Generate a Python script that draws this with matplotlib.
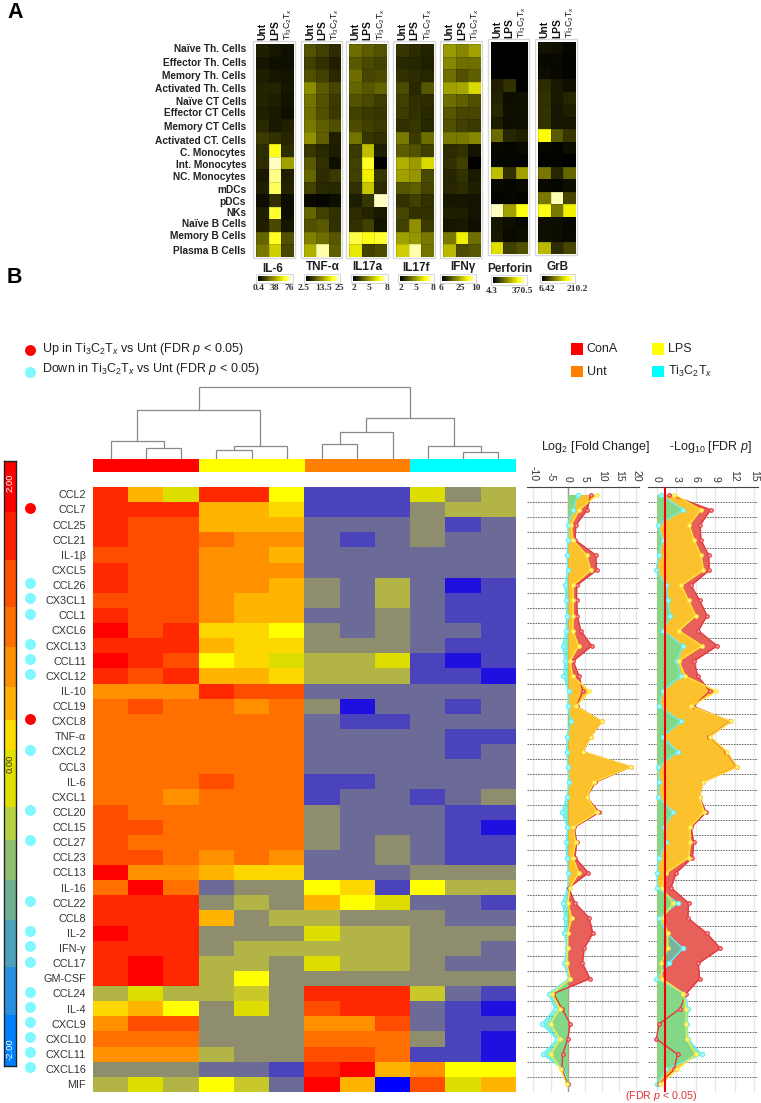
import numpy as np
import matplotlib
matplotlib.use("Agg")
import matplotlib.pyplot as plt
from matplotlib.colors import ListedColormap, LinearSegmentedColormap, BoundaryNorm
from matplotlib.patches import Rectangle

plt.rcParams["font.family"] = ["Liberation Sans", "DejaVu Sans"]
plt.rcParams["mathtext.fontset"] = "custom"
plt.rcParams["mathtext.rm"] = "Liberation Sans"
plt.rcParams["mathtext.it"] = "Liberation Sans:italic"
plt.rcParams["mathtext.bf"] = "Liberation Sans:bold"

W, H = 761, 1103

# panel A
cell_types = ["Naïve Th. Cells", "Effector Th. Cells", "Memory Th. Cells", "Activated Th. Cells",
              "Naïve CT Cells", "Effector CT Cells", "Memory CT Cells", "Activated CT. Cells",
              "C. Monocytes", "Int. Monocytes", "NC. Monocytes", "mDCs", "pDCs", "NKs",
              "Naïve B Cells", "Memory B Cells", "Plasma B Cells"]
cell_label_y = [49, 63, 76, 89, 102, 113, 127, 141, 153, 165, 177, 190, 202, 213, 224, 236, 251]
il6 = [[1, .7, .5], [.7, .5, .5], [1, .7, .6], [1.1, 1.1, .7], [1.1, .9, .6], [1, .8, .5], [1.3, .8, 1],
       [1.9, 1.6, 1.2], [1.4, 8.2, 1.4], [1.4, 9.7, 5], [.8, 9.2, 1], [1, 8.8, 1.1], [.4, 1.5, .4],
       [1, 8.4, .4], [1, 2.3, .7], [3.2, 8.3, 2.5], [3.8, 6.5, 2.2]]
tnfa = [[2.6, 2, 1.4], [2, 1.5, 1], [2.5, 2, 1.3], [4.4, 2.8, 2.2], [3.6, 2.6, 1.9], [3.5, 2.5, 1.8],
        [3.8, 3, 2.5], [4.5, 3, 1], [1.7, 1.3, .9], [2.8, 1.5, .5], [3.2, 1.4, 1.8], [2.1, 1.3, 1.2],
        [.3, .2, .4], [3.2, 2, 1.6], [2.5, 2.8, 1.5], [4, 3.4, 2.7], [5.5, 9.5, 3]]
il17a = [[3.4, 2.9, 2.6], [2.8, 2.3, 2.1], [3.4, 2.2, 2.4], [3.2, 2.7, 3.2], [2.6, 2.3, 1.9], [2.1, 1.8, 1.7],
         [2.4, 2, 1.8], [3.6, 1.7, 1.5], [1.8, 6, 1], [2, 8.3, 0], [2, 7.5, 1.7], [1.5, 6.2, 1.4],
         [.9, 1.7, 9.7], [1.4, 1.1, .8], [1.5, 2, .6], [8.6, 8.2, 8.4], [7.3, 2, 2.4]]
il17f = [[1.7, 1.4, 1.1], [1.3, 1.2, 1], [1.6, 1.4, 1.2], [2.4, 1.3, 2.7], [2, 1.5, 1.4], [1.9, 1.6, 1.3],
         [1.5, 1.7, 1.2], [3.8, 1.8, 3.4], [2.9, 2.6, 2], [5.5, 4.8, 6.8], [5, 4.7, 2.3], [2.7, 3, 2.2],
         [1.6, 2, 1.6], [2.2, 1.6, 1.6], [2, 4.5, 1.8], [5, 4.7, 3.8], [6.5, 9.5, 3.6]]
ifng = [[4.8, 4.2, 5], [4.2, 3.5, 3.5], [3.5, 2.5, 3], [5, 5.2, 6.8], [3.4, 3, 2.5], [2.7, 2.2, 2.2],
        [2.5, 2, 1.8], [3.8, 3.8, 4.2], [1.4, 1.6, .6], [1.5, 2, 0], [1.2, 1.6, .8], [1.2, 1.4, 1],
        [.7, .7, .6], [1, .9, .6], [.7, .8, .5], [3.8, 7.5, 3.5], [5.8, 2.4, 2.7]]
perforin = [[0, 0, 0], [0, 0, 0], [0, 0, 0], [1, 1.5, 0], [1.1, .4, .5], [1.3, .5, .5], [.9, .4, .5],
            [3.3, 1.2, 1], [.3, .2, .3], [.2, .2, .1], [6, 1.5, 5], [.3, .2, .3], [.1, .2, .1],
            [9.7, 5, 8.2], [.7, .4, .3], [.8, .3, .4], [7, 2, 2.5]]
grb = [[.6, .5, .2], [.3, .3, .1], [.4, .3, .1], [1.4, .8, .5], [1.6, .8, 1.2], [1.6, .7, 1], [1.6, .7, .7],
       [8, 2.8, 1.7], [.2, .1, .4], [.1, .1, 0], [3.7, 1.2, 3.2], [.3, .2, .4], [3.8, 9.6, 2.2],
       [8.2, 3.8, 7.5], [.5, .4, .3], [.5, .4, .3], [5.8, 1.4, 2.2]]
small_maps = [("IL-6", il6), ("TNF-α", tnfa), ("IL17a", il17a), ("IL17f", il17f),
              ("IFNγ", ifng), ("Perforin", perforin), ("GrB", grb)]
small_xpos = [(256, 294), (304, 341), (349, 386.7), (396, 433.7), (443.3, 480.7), (490.7, 528.3), (538.3, 576)]
small_ypos = [(44.3, 256.7)] * 5 + [(42, 254), (41.7, 254)]
small_titles_xy = [(273, 269), (322.7, 267), (367.7, 267), (416, 268), (462.7, 267.3), (510.3, 269), (557.7, 266.7)]
small_cbar = [(258, 291, 276, 281), (306, 338.3, 276, 281), (353.3, 385.7, 276, 281), (400, 431.7, 276, 281),
              (441.7, 474, 276, 281), (493.3, 525, 277, 283), (541.7, 573.3, 276, 281)]
small_ticks = [[("0.4", 259), ("38", 274.3), ("76", 289.3)], [("2.5", 304), ("13.5", 323.3), ("25", 339.3)],
               [("2", 354), ("5", 369), ("8", 386.7)], [("2", 400.7), ("5", 416), ("8", 433)],
               [("6", 441), ("25", 460.7), ("10", 476)], [("4.3", 491.3), ("370.5", 522.3)],
               [("6.42", 547.3), ("210.2", 577.3)]]
condition_labels = ["Unt", "LPS", r"Ti$_3$C$_2$T$_x$"]

# panel B heatmap
genes = ["CCL2", "CCL7", "CCL25", "CCL21", "IL-1β", "CXCL5", "CCL26", "CX3CL1", "CCL1", "CXCL6", "CXCL13",
         "CCL11", "CXCL12", "IL-10", "CCL19", "CXCL8", "TNF-α", "CXCL2", "CCL3", "IL-6", "CXCL1", "CCL20",
         "CCL15", "CCL27", "CCL23", "CCL13", "IL-16", "CCL22", "CCL8", "IL-2", "IFN-γ", "CCL17", "GM-CSF",
         "CCL24", "IL-4", "CXCL9", "CXCL10", "CXCL11", "CXCL16", "MIF"]
heat_levels = [
    [14, 10, 7, 14, 14, 8, 2, 2, 2, 7, 4, 5], [14, 14, 14, 10, 10, 9, 2, 2, 2, 4, 5, 5],
    [14, 13, 13, 10, 10, 10, 3, 3, 3, 4, 2, 3], [14, 13, 13, 12, 11, 11, 3, 2, 3, 4, 3, 3],
    [13, 13, 13, 11, 11, 10, 3, 3, 3, 3, 3, 3], [14, 13, 13, 11, 11, 11, 3, 3, 3, 3, 3, 3],
    [14, 13, 13, 11, 11, 10, 4, 3, 5, 3, 1, 2], [13, 13, 13, 11, 10, 10, 4, 3, 5, 3, 2, 2],
    [14, 13, 13, 11, 10, 10, 3, 3, 4, 3, 2, 2], [15, 13, 14, 9, 9, 8, 4, 3, 4, 3, 3, 2],
    [14, 14, 14, 10, 9, 9, 4, 4, 4, 3, 2, 2], [15, 14, 13, 8, 9, 7, 5, 5, 7, 2, 1, 2],
    [14, 13, 14, 10, 10, 9, 5, 5, 5, 2, 2, 1], [11, 11, 11, 14, 13, 13, 3, 3, 3, 3, 3, 3],
    [12, 13, 12, 12, 11, 12, 4, 1, 3, 3, 2, 3], [12, 12, 12, 12, 12, 12, 3, 2, 2, 3, 3, 3],
    [12, 12, 12, 12, 12, 12, 3, 3, 3, 3, 2, 2], [12, 12, 12, 12, 12, 12, 3, 3, 3, 3, 2, 3],
    [12, 12, 12, 12, 12, 12, 3, 3, 3, 3, 3, 3], [12, 12, 12, 13, 12, 12, 2, 2, 3, 3, 3, 3],
    [12, 12, 11, 12, 12, 12, 2, 3, 3, 2, 3, 4], [13, 12, 12, 12, 12, 12, 4, 3, 3, 3, 2, 2],
    [13, 13, 12, 12, 12, 12, 4, 3, 3, 3, 2, 1], [13, 12, 12, 12, 12, 12, 4, 3, 4, 3, 2, 2],
    [13, 13, 12, 11, 12, 11, 3, 3, 4, 3, 2, 2], [15, 11, 11, 10, 9, 9, 3, 3, 3, 4, 4, 4],
    [12, 15, 12, 3, 4, 4, 8, 9, 2, 8, 5, 5], [14, 14, 14, 4, 5, 4, 10, 8, 7, 3, 3, 2],
    [14, 14, 14, 10, 4, 5, 5, 4, 4, 4, 3, 3], [15, 14, 14, 4, 4, 4, 7, 5, 5, 4, 4, 4],
    [14, 14, 14, 4, 5, 5, 5, 5, 5, 4, 4, 3], [14, 15, 14, 5, 5, 4, 7, 5, 5, 4, 3, 3],
    [14, 15, 14, 5, 8, 4, 4, 4, 4, 4, 4, 4], [5, 7, 5, 5, 6, 4, 14, 14, 14, 6, 3, 2],
    [9, 10, 8, 4, 7, 4, 13, 14, 14, 3, 2, 1], [11, 13, 13, 4, 4, 4, 11, 11, 13, 3, 2, 2],
    [12, 12, 12, 4, 4, 4, 12, 12, 12, 4, 2, 1], [11, 11, 11, 5, 4, 4, 13, 13, 12, 2, 2, 1],
    [4, 4, 4, 3, 3, 2, 14, 15, 10, 11, 8, 8], [5, 7, 5, 8, 6, 3, 15, 10, 0, 13, 7, 10]]
level_colors = ["#0000ff", "#2010e0", "#4a43bb", "#6c6b97", "#8e8e6e", "#b2b445", "#c8c82a", "#dddd00",
                "#ffff00", "#ffd700", "#ffb400", "#ff9000", "#ff7000", "#ff4d00", "#ff2800", "#ff0000"]
group_colors = ["#ff0000", "#ffff00", "#ff8000", "#00ffff"]
group_sizes = [3, 3, 3, 3]
up_genes = ["CCL7", "CXCL8"]
down_genes = ["CCL26", "CX3CL1", "CCL1", "CXCL13", "CCL11", "CXCL12", "CXCL2", "CCL20", "CCL27", "CCL22",
              "IL-2", "IFN-γ", "CCL17", "CCL24", "IL-4", "CXCL9", "CXCL10", "CXCL11", "CXCL16"]

# dendrogram links: left column, right column, left drop, right drop, height
dendro_links = [(1, 2, 0, 0, 10.7), (0, 1.5, 0, 10.7, 18), (3, 4, 0, 0, 8.7), (3.5, 5, 8.7, 0, 13.3),
                (.75, 4.25, 18, 13.3, 48.7), (6, 7, 0, 0, 14.7), (6.5, 8, 14.7, 0, 26.7),
                (10, 11, 0, 0, 6.7), (9, 10.5, 0, 6.7, 13.3), (7.25, 9.75, 26.7, 13.3, 40.7),
                (2.5, 8.5, 48.7, 40.7, 72)]

# side colour scale of the heatmap
scale_edges = [460.7, 511.7, 560, 606.7, 646.7, 686.7, 720, 750, 806.7, 840, 880, 920, 966.7, 1015, 1065.7]
scale_colors = ["#ff0000", "#ff2000", "#ff5000", "#ff7000", "#ff9000", "#ffb000", "#ffdc00", "#e0e000",
                "#b5d040", "#8fc070", "#70ae92", "#4fa0bc", "#2890e0", "#0080ff"]

# profile panels, one value per gene
fc_cona = [6.7, 5.7, 2.4, 2.1, 8.2, 8.4, 2.6, 2.6, 2.8, 3.8, 7, 1.6, 3.3, 4.4, 2.6, 9.9, 6.7, 4.4, 18.4, 8.1,
           5.5, 9.2, 1.9, 2.6, 2.1, 6, .3, 2.1, 6.3, 7.3, 4.8, 4.3, 6.5, -4.2, -1.6, .7, 0, -1.5, -1.7, 0]
fc_lps = [8.6, 3.4, 1, 1.6, 5.5, 6.7, 1.6, 1.6, 1.6, 1.5, 3.2, .7, 1.4, 6.3, 2.4, 9.9, 6.7, 4.4, 18.4, 7.7,
          5.5, 8.6, 1.6, 2.3, 1.5, 3.2, .7, 0, 1.2, 0, 0, -.3, .7, -4.5, -2.4, -5, -2.2, -4.9, -2, -.3]
fc_ti = [2.9, 1.6, 0, .2, -.3, 0, -.8, -.5, -.3, -.5, -1.5, -.8, -1.3, .3, 0, 1, -.3, -.3, 0, .4,
         -.3, -1.7, -.1, -.5, -.3, .2, 0, -1.5, -.8, -1, -.3, -1.1, .3, -5.6, -3.7, -7.6, -3.2, -7.3, -1.3, 0]
fdr_cona = [1.95, 8.3, 6.7, 6.8, 8, 8.1, 5.3, 6.6, 7.75, 6.4, 9.3, 5.75, 6.3, 8.2, 5.6, 11.3, 8.1, 10.7, 12.3, 7.1,
            6.6, 7.6, 5.3, 5.7, 5.5, 3, 2.2, 4.9, 4.8, 7.7, 9.8, 6.4, 6.6, 4.5, 3.6, .35, -.05, 3.2, 2.7, .4]
fdr_lps = [2.7, 6.8, 5, 5.75, 6.8, 7.2, 3.8, 4.9, 6, 3.4, 7, 3.4, 4.4, 9.2, 5.3, 11.4, 8.2, 10.8, 12.4, 7.1,
           6.6, 7.3, 5.1, 5.2, 4.9, 1.5, .8, 2.5, .9, 1.7, 1.7, .7, .8, 4.1, 4.5, 4.5, 4.6, 6, 3.1, .5]
fdr_ti = [.6, 4.1, .15, .9, .3, -.1, 1.5, 1.7, 2.1, 1, 4, 3.1, 3.7, .9, .35, 3.75, .9, 3.2, .15, .4,
          .2, 2.5, 1.1, 1.4, .4, 0, .1, 3.2, .4, 1.5, 4, 1.9, -.05, 4.4, 4.8, 4.7, 4.8, 6.9, 1.4, 0]
fc_ticks = [-10, -5, 0, 5, 10, 15, 20]
fdr_ticks = [0, 3, 6, 9, 12, 15]
fdr_cutoff = 1.25


def px_axes(x0, y0, x1, y1, **kw):
    return fig.add_axes([x0 / W, 1 - y1 / H, (x1 - x0) / W, (y1 - y0) / H], **kw)


fig = plt.figure(figsize=(W / 100, H / 100), dpi=100)
page = px_axes(0, 0, W, H)
page.set_xlim(0, W)
page.set_ylim(H, 0)
page.axis("off")

page.text(7, 18, "A", fontsize=15.5, fontweight="bold", va="baseline")
page.text(7, 283, "B", fontsize=15.5, fontweight="bold", va="baseline")

# panel A
cmap_a = LinearSegmentedColormap.from_list("by", [(0, "#000000"), (.8, "#ffff00"), (1, "#ffffe0")])
for name, y in zip(cell_types, cell_label_y):
    page.text(246, y, name, ha="right", va="center", fontsize=7.3, fontweight="bold", color="#222222")

for k, (title, vals) in enumerate(small_maps):
    x0, x1 = small_xpos[k]
    y0, y1 = small_ypos[k]
    page.add_patch(Rectangle((x0 - 3, y0 - 3), x1 - x0 + 4, y1 - y0 + 4, fill=False, ec="#d8d8d8", lw=1))
    ax = px_axes(x0, y0, x1, y1)
    ax.pcolormesh(np.array(vals), cmap=cmap_a, vmin=0, vmax=10, edgecolors="#00000020", linewidth=.5)
    ax.set_ylim(len(vals), 0)
    ax.axis("off")
    for j, lab in enumerate(condition_labels):
        cx = x0 + (x1 - x0) * (j + .5) / 3
        page.text(cx, y0 - 4, lab, rotation=90, ha="center", va="bottom",
                  fontsize=6.4 if j == 2 else 7.4, fontweight="normal" if j == 2 else "bold", color="#111111")
    page.text(*small_titles_xy[k], title, ha="center", va="center", fontsize=8.5, fontweight="bold", color="#222222")
    bx0, bx1, by0, by1 = small_cbar[k]
    page.add_patch(Rectangle((bx0 - 2, by0 - 2), bx1 - bx0 + 4, by1 - by0 + 4, fill=False, ec="#d8d8d8", lw=.8))
    cb = px_axes(bx0, by0, bx1, by1)
    cb.imshow(np.linspace(0, 1, 64)[None, :], cmap=cmap_a, aspect="auto")
    cb.axis("off")
    for lab, tx in small_ticks[k]:
        page.text(tx, by1 + 7 if k < 5 else by1 + 8, lab, ha="center", va="center", fontsize=6.8,
                  family="Liberation Serif", fontweight="bold", color="#333333")

# legends of panel B
page.scatter([30], [350], s=62, color="#ff0000", linewidths=0)
page.scatter([30], [372], s=62, color="#80f8ff", linewidths=0)
page.text(42, 349, r"Up in Ti$_3$C$_2$T$_x$ vs Unt (FDR $p$ < 0.05)", fontsize=9, va="center", color="#222222")
page.text(42, 369, r"Down in Ti$_3$C$_2$T$_x$ vs Unt (FDR $p$ < 0.05)", fontsize=9, va="center", color="#222222")
for (x, y), c, lab in zip([(570.7, 343.3), (570.7, 365.7), (652.3, 343.3), (652.3, 365.7)],
                          ["#ff0000", "#ff8000", "#ffff00", "#00ffff"],
                          ["ConA", "Unt", "LPS", r"Ti$_3$C$_2$T$_x$"]):
    page.add_patch(Rectangle((x, y), 12, 11.7, color=c, lw=0))
    page.text(x + 16, y + 6, lab, fontsize=9, va="center", color="#222222")
page.text(595.7, 446.7, r"Log$_2$ [Fold Change]", fontsize=9, ha="center", va="center", color="#222222")
page.text(710, 446.7, r"-Log$_{10}$ [FDR $p$]", fontsize=9, ha="center", va="center", color="#222222")
page.text(661.5, 1096, r"(FDR $p$ < 0.05)", fontsize=7.7, ha="center", va="center", color="#e03030")

# side colour scale
sc = px_axes(4, 460.7, 16, 1065.7)
sc.pcolormesh([0, 1], scale_edges, np.arange(len(scale_colors))[:, None],
              cmap=ListedColormap(scale_colors), shading="flat")
sc.set_ylim(1065.7, 460.7)
sc.set_xticks([])
sc.set_yticks([])
for s in sc.spines.values():
    s.set_color("#222222")
    s.set_linewidth(1)
sc.text(.5, 483, "2.00", rotation=90, color="white", ha="center", va="center", fontsize=6.8, transform=sc.get_yaxis_transform())
sc.text(.5, 764, "0.00", rotation=90, color="#333333", ha="center", va="center", fontsize=6.8, transform=sc.get_yaxis_transform())
sc.text(.5, 1049, "-2.00", rotation=90, color="white", ha="center", va="center", fontsize=6.8, transform=sc.get_yaxis_transform())

# dendrogram
den = px_axes(93, 380, 516, 459)
den.set_xlim(-.5, 11.5)
den.set_ylim(0, 79)
den.axis("off")
for a, b, da, db, h in dendro_links:
    den.plot([a, a, b, b], [da, h, h, db], color="#888888", lw=.9, solid_joinstyle="miter")

# group colour strip
strip = px_axes(93, 459, 516, 471.7)
strip.pcolormesh(np.arange(13) - .5, [0, 1], np.repeat(np.arange(4), group_sizes)[None, :],
                 cmap=ListedColormap(group_colors))
strip.axis("off")

# heatmap
hm = px_axes(93, 486.7, 516, 1091.7)
norm = BoundaryNorm(np.arange(-.5, 16), 16)
hm.imshow(np.array(heat_levels), cmap=ListedColormap(level_colors), norm=norm, aspect="auto", interpolation="nearest")
hm.set_xticks([])
hm.set_yticks(range(len(genes)))
hm.set_yticklabels(genes, fontsize=7.8, color="#333333")
hm.tick_params(axis="y", length=0, pad=5)
for s in hm.spines.values():
    s.set_visible(False)
# significance dots
page.scatter([30] * len(up_genes), [494 + 15.13 * genes.index(g) - 1.5 for g in up_genes], s=62, color="#ff0000", linewidths=0)
page.scatter([30] * len(down_genes), [494 + 15.13 * genes.index(g) - 1.5 for g in down_genes], s=62, color="#80f8ff", linewidths=0)


def profile(x0, x1, xlim, ticks, cona, lps, ti):
    ax = px_axes(x0, 487, x1, 1092)
    rows = np.arange(len(genes))
    ax.set_xlim(*xlim)
    ax.set_ylim(39.5, -.5)
    for t in ticks:
        ax.axvline(t, color="#e6e6e6", lw=1, zorder=0)
    for r in rows:
        ax.axhline(r + .5, color="#555555", lw=.6, ls=(0, (2, 1.2)), zorder=1)
    ax.fill_betweenx(rows, 0, cona, color="#e8605a", lw=0, zorder=2)
    ax.fill_betweenx(rows, 0, lps, color="#fbc22e", lw=0, zorder=3)
    ax.fill_betweenx(rows, 0, ti, color="#39e6c0", alpha=.62, lw=0, zorder=4)
    ax.plot(ti, rows, color="#66f0f5", lw=1, marker="o", ms=3, mfc="#b8fafa", mew=.9, zorder=5)
    ax.plot(cona, rows, color="#e5383f", lw=1, marker="o", ms=2.6, mfc="#f8a0a0", mew=.8, zorder=6)
    ax.plot(lps, rows, color="#ffe632", lw=1, marker="o", ms=2.6, mfc="#fff7a0", mew=.8, zorder=7)
    ax.xaxis.tick_top()
    ax.set_xticks(ticks)
    ax.set_xticklabels(ticks, rotation=270, fontsize=7.6, color="#333333", ha="center", va="bottom")
    ax.tick_params(axis="x", length=0, pad=4)
    ax.set_yticks([])
    for s in ["left", "right", "bottom"]:
        ax.spines[s].set_visible(False)
    ax.spines["top"].set_color("#444444")
    ax.spines["top"].set_linewidth(.8)
    ax.patch.set_alpha(0)
    return ax


ax1 = profile(527.3, 639, (-11.8, 20.8), fc_ticks, fc_cona, fc_lps, fc_ti)
ax1.axvline(0, color="#999999", lw=1, zorder=1.5)
ax2 = profile(648.3, 758, (-1.3, 15.6), fdr_ticks, fdr_cona, fdr_lps, fdr_ti)
ax2.axvline(fdr_cutoff, color="#f00000", lw=1.5, zorder=8)

fig.savefig("out.png", dpi=100)
